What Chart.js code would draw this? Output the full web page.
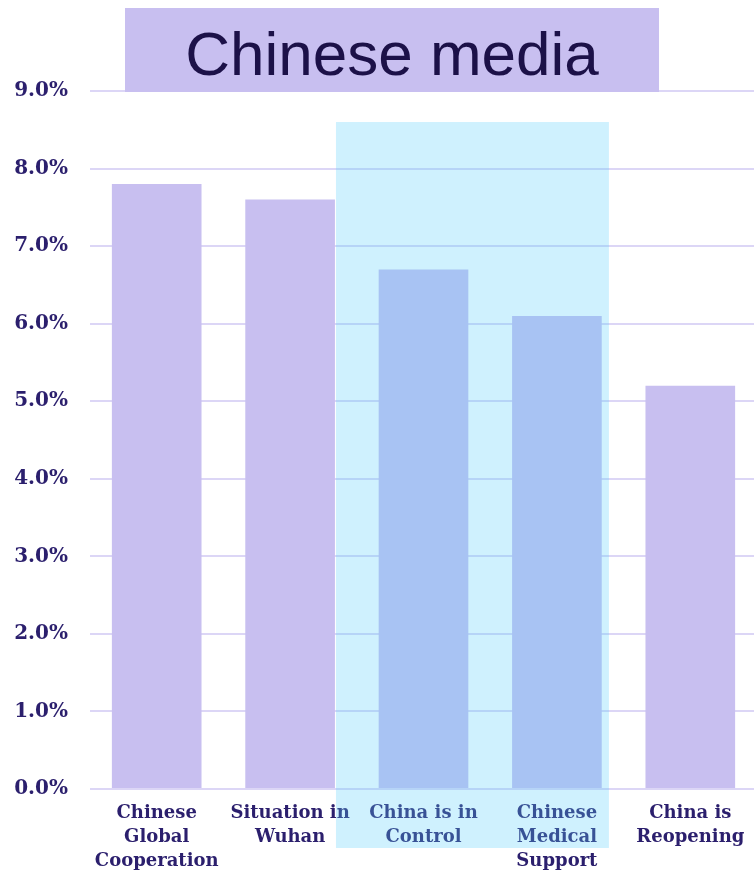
<!DOCTYPE html>
<html>
<head>
<meta charset="utf-8">
<title>Chinese media</title>
<script src="https://cdn.jsdelivr.net/npm/chart.js@4.4.1/dist/chart.umd.min.js"></script>
<style>
  html, body { margin: 0; padding: 0; background: #fff; overflow: hidden; }
  #wrap { width: 754px; height: 873px; overflow: hidden; }
</style>
</head>
<body>
<div id="wrap">
  <canvas id="mediaChart" width="757" height="873"></canvas>
</div>
<script>
// Kategoriler ve değerler
const categories = [
    ["Chinese", "Global", "Cooperation"],
    ["Situation in", "Wuhan"],
    ["China is in", "Control"],
    ["Chinese", "Medical", "Support"],
    ["China is", "Reopening"]
];
const shares = [7.8, 7.6, 6.7, 6.1, 5.2];
const yTicks = [0, 1, 2, 3, 4, 5, 6, 7, 8, 9];
const titleText = "Chinese media";
const highlighted = [2, 3];   // vurgulanan kategoriler

const purple = '#c8bff0';
const labelColor = '#2b1f6d';

// Vurgu kutusu + başlık kutusu
const overlayPlugin = {
    id: 'overlay',
    afterDraw(chart) {
        const ctx = chart.ctx;
        const x = chart.scales.x;
        const y = chart.scales.y;
        const step = x.getPixelForValue(1) - x.getPixelForValue(0);

        const left = x.getPixelForValue(highlighted[0]) - 0.656 * step;
        const right = x.getPixelForValue(highlighted[1]) + 0.39 * step;
        const top = y.getPixelForValue(8.6);
        const bottom = chart.chartArea.bottom + 59;
        ctx.save();
        ctx.fillStyle = 'rgba(90, 207, 252, 0.29)';
        ctx.fillRect(left, top, right - left, bottom - top);

        // başlık
        ctx.fillStyle = purple;
        ctx.fillRect(125, 8, 534, 84);
        ctx.fillStyle = '#1c1148';
        ctx.font = '62px "Liberation Sans", Arial, sans-serif';
        ctx.textAlign = 'center';
        ctx.textBaseline = 'alphabetic';
        ctx.fillText(titleText, 392, 75);
        ctx.restore();
    }
};

new Chart(document.getElementById('mediaChart'), {
    type: 'bar',
    data: {
        labels: categories,
        datasets: [{
            data: shares,
            backgroundColor: purple,
            borderWidth: 0,
            barPercentage: 0.672,
            categoryPercentage: 1
        }]
    },
    options: {
        responsive: false,
        animation: false,
        layout: { padding: { top: 91, right: 0, left: 0, bottom: 0 } },
        plugins: {
            legend: { display: false },
            tooltip: { enabled: false },
            title: { display: false }
        },
        scales: {
            x: {
                afterFit(scale) { scale.height = 84; },
                grid: { display: false, drawTicks: false },
                border: { display: false },
                ticks: {
                    color: labelColor,
                    padding: 12,
                    maxRotation: 0,
                    autoSkip: false,
                    font: { family: '"DejaVu Serif", serif', size: 18, weight: 'bold', lineHeight: 1.333 }
                }
            },
            y: {
                min: 0,
                max: 9,
                afterFit(scale) { scale.width = 90; },
                afterBuildTicks(scale) { scale.ticks = yTicks.map(v => ({ value: v })); },
                grid: { color: '#dcd6f6', lineWidth: 2, drawTicks: false },
                border: { display: false },
                ticks: {
                    color: labelColor,
                    padding: 22,
                    callback: v => v.toFixed(1) + '%',
                    font: { family: '"DejaVu Serif", serif', size: 20, weight: 'bold' }
                }
            }
        }
    },
    plugins: [overlayPlugin]
});
</script>
</body>
</html>
